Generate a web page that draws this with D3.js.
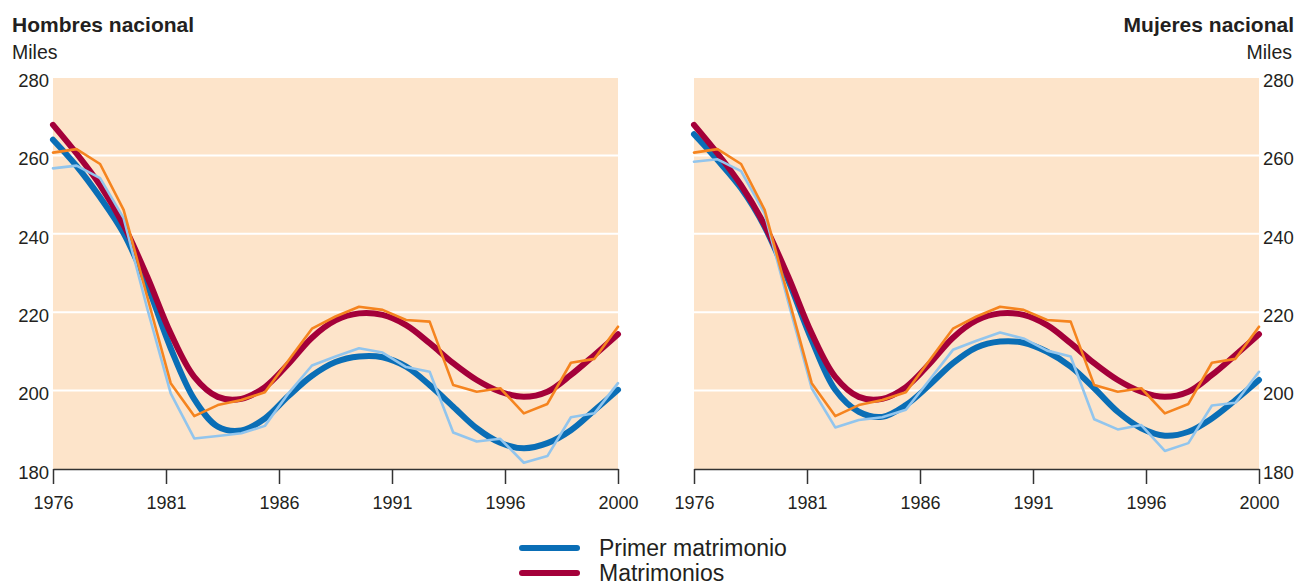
<!DOCTYPE html>
<html>
<head>
<meta charset="utf-8">
<script src="https://cdn.jsdelivr.net/npm/d3@7"></script>
<style>
  html, body { margin: 0; padding: 0; background: #ffffff; }
  svg { display: block; font-family: "Liberation Sans", Arial, sans-serif; }
</style>
</head>
<body>
<svg id="chart" width="1303" height="583"></svg>
<script>
// ---------- data ----------
const years = [1976,1977,1978,1979,1980,1981,1982,1983,1984,1985,1986,1987,1988,1989,1990,1991,1992,1993,1994,1995,1996,1997,1998,1999,2000];
const xTickLabels = ["1976","1981","1986","1991","1996","2000"];
const yTicks = [180,200,220,240,260,280];

// Matrimonios (same for both panels)
const matrimoniosRaw   = [260.7,261.6,257.8,246.1,224.0,201.9,193.5,196.3,197.6,199.6,207.7,215.8,218.9,221.4,220.6,218.0,217.6,201.4,199.7,200.6,194.2,196.6,207.1,208.1,216.3];
const matrimoniosTrend = [267.8,260.5,252.4,242.2,229.1,214.6,203.5,198.4,197.9,200.9,206.8,213.5,217.9,219.7,219.3,216.7,212.1,207.0,202.7,199.7,198.4,199.7,204.0,209.1,214.4];

// Primer matrimonio, hombres
const hombresPrimerRaw   = [256.7,257.4,254.2,244.0,221.0,199.3,187.8,188.4,189.1,191.0,199.3,206.4,208.7,210.8,209.7,206.0,204.8,189.3,187.0,187.7,181.6,183.3,193.2,194.2,201.9];
const hombresPrimerTrend = [264.0,257.3,249.3,240.1,226.9,210.8,197.8,190.8,189.8,192.9,198.6,203.8,207.3,208.7,208.5,206.1,201.4,195.9,190.4,186.7,185.3,186.6,189.9,195.0,200.2];

// Primer matrimonio, mujeres
const mujeresPrimerRaw   = [258.4,259.0,256.0,245.2,222.7,200.6,190.6,192.5,193.2,195.1,202.7,210.4,212.7,214.8,213.3,210.2,208.7,192.7,190.1,191.2,184.6,186.6,196.2,196.9,204.8];
const mujeresPrimerTrend = [265.4,258.8,251.6,241.8,228.2,212.9,200.2,194.6,193.3,196.3,201.4,207.0,211.0,212.5,212.2,209.9,206.1,200.6,194.6,190.4,188.5,189.5,192.9,197.6,202.7];

const legendLabels = ["Primer matrimonio", "Matrimonios"];

// ---------- style ----------
const C = {
  bg: "#fde4ca",
  grid: "#ffffff",
  text: "#231f20",
  axis: "#333333",
  blue: "#0a6eb6",
  red: "#a4003a",
  orange: "#f5841f",
  light: "#92c5ed"
};

const svg = d3.select("#chart");
const yRange = [469, 77];

function drawPanel(x0, x1, side, title, primerRaw, primerTrend) {
  const g = svg.append("g");
  const x = d3.scaleLinear().domain([years[0], years[years.length - 1]]).range([x0, x1]);
  const xt = d3.scalePoint().domain(xTickLabels).range([x0, x1]);
  const y = d3.scaleLinear().domain([180, 280]).range(yRange);

  // background
  g.append("rect")
    .attr("x", x0).attr("y", y(280))
    .attr("width", x1 - x0).attr("height", y(180) - y(280))
    .attr("fill", C.bg);

  // gridlines
  g.selectAll("line.grid").data(yTicks.filter(d => d > 180)).enter()
    .append("line").attr("class", "grid")
    .attr("x1", x0).attr("x2", x1)
    .attr("y1", d => y(d)).attr("y2", d => y(d))
    .attr("stroke", C.grid).attr("stroke-width", 2);

  // lines
  const line = d3.line().x((d, i) => x(years[i])).y(d => y(d));
  const smooth = d3.line().x((d, i) => x(years[i])).y(d => y(d)).curve(d3.curveCatmullRom.alpha(0.5));

  const series = [
    { data: primerTrend, color: C.blue, w: 6, gen: smooth },
    { data: matrimoniosTrend, color: C.red, w: 6, gen: smooth },
    { data: primerRaw, color: C.light, w: 2.6, gen: line },
    { data: matrimoniosRaw, color: C.orange, w: 2.6, gen: line }
  ];
  series.forEach(s => {
    g.append("path")
      .attr("d", s.gen(s.data))
      .attr("fill", "none")
      .attr("stroke", s.color)
      .attr("stroke-width", s.w)
      .attr("stroke-linejoin", "round")
      .attr("stroke-linecap", "round");
  });

  // x axis
  const xa = g.append("g")
    .attr("transform", `translate(0,${y(180)})`)
    .call(d3.axisBottom(xt).tickSize(15).tickSizeOuter(0).tickPadding(12));
  xa.select(".domain").attr("stroke", C.axis).attr("stroke-width", 1.5);
  xa.selectAll(".tick line").attr("stroke", C.axis).attr("stroke-width", 1.5);
  xa.selectAll(".tick text")
    .attr("fill", C.text)
    .style("font-size", "18px")
    .style("font-family", "'Liberation Sans', Arial, sans-serif");

  // y axis (labels only)
  const ya = g.append("g");
  if (side === "left") {
    ya.attr("transform", `translate(${x0},0)`)
      .call(d3.axisLeft(y).tickValues(yTicks).tickSize(0).tickPadding(4));
  } else {
    ya.attr("transform", `translate(${x1},0)`)
      .call(d3.axisRight(y).tickValues(yTicks).tickSize(0).tickPadding(4));
  }
  ya.select(".domain").remove();
  ya.selectAll(".tick text")
    .attr("fill", C.text)
    .attr("dy", "0.5em")
    .style("font-size", "18.5px")
    .style("font-family", "'Liberation Sans', Arial, sans-serif");

  // titles
  const anchor = side === "left" ? "start" : "end";
  svg.append("text")
    .attr("x", side === "left" ? 12 : 1294).attr("y", 32)
    .attr("text-anchor", anchor)
    .attr("fill", C.text)
    .style("font-size", "21px").style("font-weight", "bold")
    .text(title);
  svg.append("text")
    .attr("x", side === "left" ? 12 : 1292).attr("y", 59)
    .attr("text-anchor", anchor)
    .attr("fill", C.text)
    .style("font-size", "19.5px")
    .text("Miles");
}

drawPanel(53, 618, "left", "Hombres nacional", hombresPrimerRaw, hombresPrimerTrend);
drawPanel(694, 1259, "right", "Mujeres nacional", mujeresPrimerRaw, mujeresPrimerTrend);

// legend
const legendColors = [C.blue, C.red];
const legendY = d3.scalePoint().domain(legendLabels).range([548, 573]);
const lg = svg.append("g");
legendLabels.forEach((lab, i) => {
  lg.append("line")
    .attr("x1", 522).attr("x2", 577)
    .attr("y1", legendY(lab)).attr("y2", legendY(lab))
    .attr("stroke", legendColors[i]).attr("stroke-width", 6)
    .attr("stroke-linecap", "round");
  lg.append("text")
    .attr("x", 599).attr("y", legendY(lab))
    .attr("dy", "0.34em")
    .attr("fill", C.text)
    .style("font-size", "23px")
    .text(lab);
});
</script>
</body>
</html>
